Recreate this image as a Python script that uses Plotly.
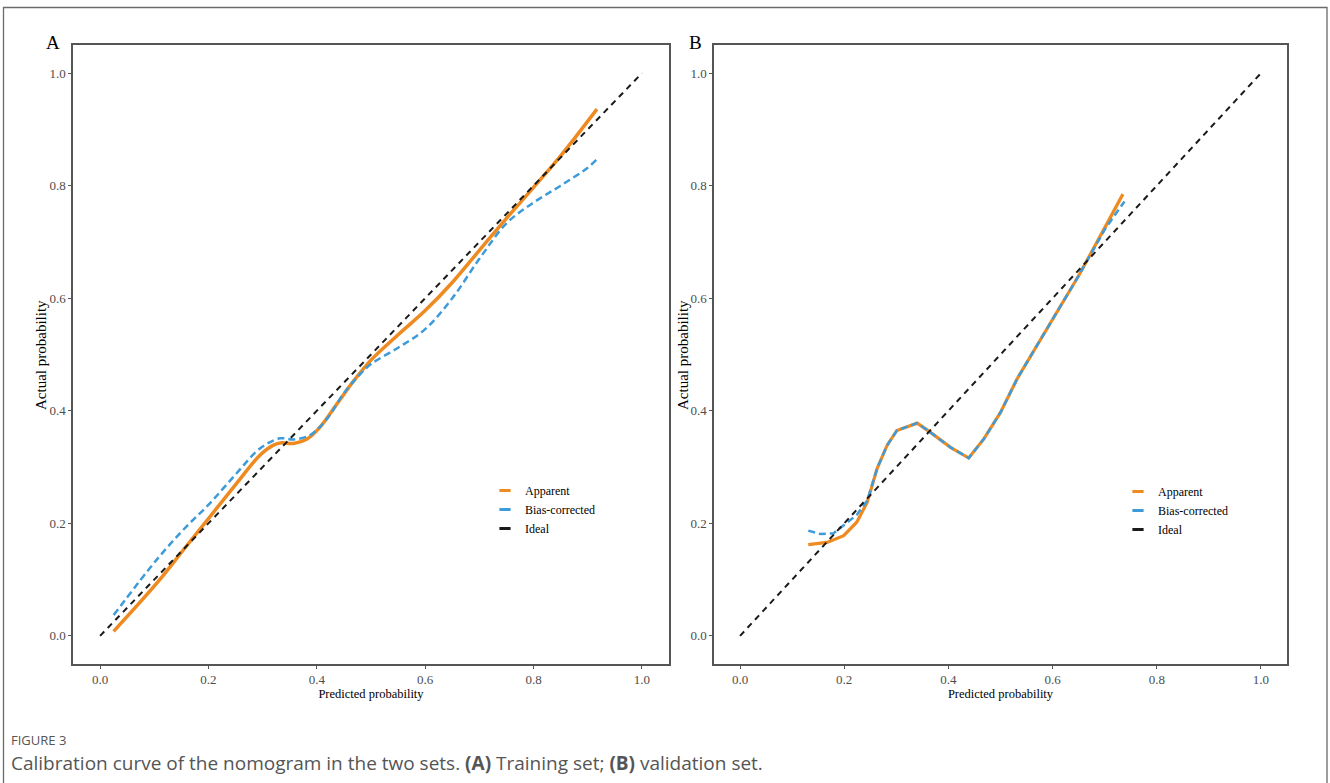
import plotly.graph_objects as go

W, H = 1330, 783

# ---------------- data ----------------
ideal_x = [0.0, 1.0]
ideal_y = [0.0, 1.0]

# Panel A (training set)
a_app_x = [0.025, 0.105, 0.154, 0.203, 0.252, 0.295, 0.320, 0.335, 0.357, 0.382, 0.406, 0.437, 0.468,
           0.50, 0.55, 0.60, 0.65, 0.70, 0.75, 0.80, 0.85, 0.917]
a_app_y = [0.008, 0.094, 0.153, 0.212, 0.271, 0.321, 0.339, 0.343, 0.342, 0.350, 0.371, 0.412, 0.453,
           0.490, 0.535, 0.578, 0.628, 0.685, 0.742, 0.797, 0.853, 0.936]
a_bc_x = [0.025, 0.105, 0.154, 0.203, 0.252, 0.295, 0.332, 0.357, 0.388, 0.419, 0.449,
          0.48, 0.50, 0.55, 0.60, 0.65, 0.70, 0.75, 0.80, 0.85, 0.90, 0.917]
a_bc_y = [0.037, 0.136, 0.189, 0.236, 0.289, 0.333, 0.351, 0.349, 0.357, 0.386, 0.430,
          0.465, 0.483, 0.512, 0.545, 0.600, 0.670, 0.733, 0.770, 0.800, 0.832, 0.847]

# Panel B (validation set)
b_app_x = [0.131, 0.167, 0.199, 0.224, 0.244, 0.263, 0.282, 0.301, 0.340, 0.365, 0.404, 0.439,
           0.468, 0.50, 0.532, 0.56, 0.60, 0.65, 0.70, 0.735]
b_app_y = [0.162, 0.166, 0.178, 0.202, 0.237, 0.297, 0.338, 0.365, 0.378, 0.362, 0.335, 0.316,
           0.350, 0.397, 0.457, 0.500, 0.562, 0.640, 0.725, 0.785]
b_bc_x = [0.131, 0.154, 0.179, 0.205, 0.224, 0.244, 0.263, 0.282, 0.301, 0.340, 0.365, 0.404, 0.439,
          0.468, 0.50, 0.532, 0.56, 0.60, 0.65, 0.70, 0.738]
b_bc_y = [0.187, 0.181, 0.182, 0.202, 0.215, 0.240, 0.297, 0.338, 0.365, 0.378, 0.362, 0.335, 0.316,
          0.350, 0.397, 0.457, 0.500, 0.562, 0.640, 0.722, 0.772]

tick_vals = [0.0, 0.2, 0.4, 0.6, 0.8, 1.0]
tick_text = ["0.0", "0.2", "0.4", "0.6", "0.8", "1.0"]
legend_names = ["Apparent", "Bias-corrected", "Ideal"]

ORANGE = "#EE8A1F"
BLUE = "#3D9BD9"
BLACK = "#1a1a1a"
SERIF = "Liberation Serif"

fig = go.Figure()

def add_panel(xa, ya, app_x, app_y, bc_x, bc_y, legend_id, spline, app_w):
    shape = "spline" if spline else "linear"
    fig.add_trace(go.Scatter(x=app_x, y=app_y, mode="lines", xaxis=xa, yaxis=ya, showlegend=False,
                             line=dict(color=ORANGE, width=app_w, shape=shape), hoverinfo="skip"))
    fig.add_trace(go.Scatter(x=bc_x, y=bc_y, mode="lines", xaxis=xa, yaxis=ya, showlegend=False,
                             line=dict(color=BLUE, width=2.5, dash="7px,4px", shape=shape), hoverinfo="skip"))
    fig.add_trace(go.Scatter(x=ideal_x, y=ideal_y, mode="lines", xaxis=xa, yaxis=ya, showlegend=False,
                             line=dict(color=BLACK, width=2, dash="6px,5px"), hoverinfo="skip"))
    # legend keys
    for name, col in zip(legend_names, [ORANGE, BLUE, BLACK]):
        fig.add_trace(go.Scatter(x=[None], y=[None], mode="markers", xaxis=xa, yaxis=ya, name=name,
                                 legend=legend_id, showlegend=True,
                                 marker=dict(symbol="line-ew", size=8, color=col,
                                             line=dict(width=3, color=col))))

add_panel("x", "y", a_app_x, a_app_y, a_bc_x, a_bc_y, "legend", True, 3.5)
add_panel("x2", "y2", b_app_x, b_app_y, b_bc_x, b_bc_y, "legend2", False, 3.2)

ydom = [1 - 664 / H, 1 - 45 / H]
axis_common = dict(range=[-0.05, 1.05], showline=True, mirror=True, linecolor="#555555", linewidth=1.5,
                   ticks="outside", ticklen=3, tickcolor="#555555", tickwidth=1,
                   showgrid=False, zeroline=False, tickvals=tick_vals, ticktext=tick_text,
                   tickfont=dict(family=SERIF, size=13, color="#4d4d4d"))

xtitle = dict(text="Predicted probability", font=dict(family=SERIF, size=12.5, color="black"), standoff=3)

ymid = 1 - 355 / H

def ylab(xpx):
    return dict(text="Actual probability", x=xpx / W, y=ymid, xref="paper", yref="paper", showarrow=False,
                textangle=-90, xanchor="center", yanchor="middle",
                font=dict(family=SERIF, size=15, color="black"))

fig.update_layout(
    width=W, height=H, margin=dict(l=0, r=0, t=0, b=0), autosize=False,
    paper_bgcolor="white", plot_bgcolor="white",
    xaxis=dict(domain=[73 / W, 669 / W], anchor="y", **axis_common, title=xtitle),
    yaxis=dict(domain=ydom, anchor="x", **axis_common),
    xaxis2=dict(domain=[714 / W, 1287 / W], anchor="y2", **axis_common, title=xtitle),
    yaxis2=dict(domain=ydom, anchor="x2", **axis_common),
    legend=dict(x=485 / W, y=1 - 476 / H, xanchor="left", yanchor="top", bgcolor="rgba(0,0,0,0)",
                font=dict(family=SERIF, size=12, color="black"), tracegroupgap=0, itemsizing="trace"),
    legend2=dict(x=1118 / W, y=1 - 477 / H, xanchor="left", yanchor="top", bgcolor="rgba(0,0,0,0)",
                 font=dict(family=SERIF, size=12, color="black"), tracegroupgap=0, itemsizing="trace"),
    shapes=[dict(type="rect", xref="paper", yref="paper", x0=3.5 / W, x1=1327 / W, y0=-0.05, y1=1 - 7.5 / H,
                 line=dict(color="#6b6b6b", width=1.3), fillcolor="rgba(0,0,0,0)", layer="below")],
    annotations=[
        ylab(41), ylab(683),
        dict(text="A", x=53 / W, y=1 - 42 / H, xref="paper", yref="paper", showarrow=False,
             xanchor="center", yanchor="middle", font=dict(family=SERIF, size=19, color="black")),
        dict(text="B", x=695 / W, y=1 - 42 / H, xref="paper", yref="paper", showarrow=False,
             xanchor="center", yanchor="middle", font=dict(family=SERIF, size=19, color="black")),
        dict(text="FIGURE 3", x=9 / W, y=1 - 740 / H, xref="paper", yref="paper", showarrow=False,
             xanchor="left", yanchor="middle", font=dict(family="Open Sans", size=13, color="#555555")),
        dict(text="Calibration curve of the nomogram in the two sets. <b>(A)</b> Training set; <b>(B)</b> validation set.",
             x=9 / W, y=1 - 763 / H, xref="paper", yref="paper", showarrow=False,
             xanchor="left", yanchor="middle", font=dict(family="Open Sans", size=19, color="#555555")),
    ],
)

fig.write_html("out.html")
